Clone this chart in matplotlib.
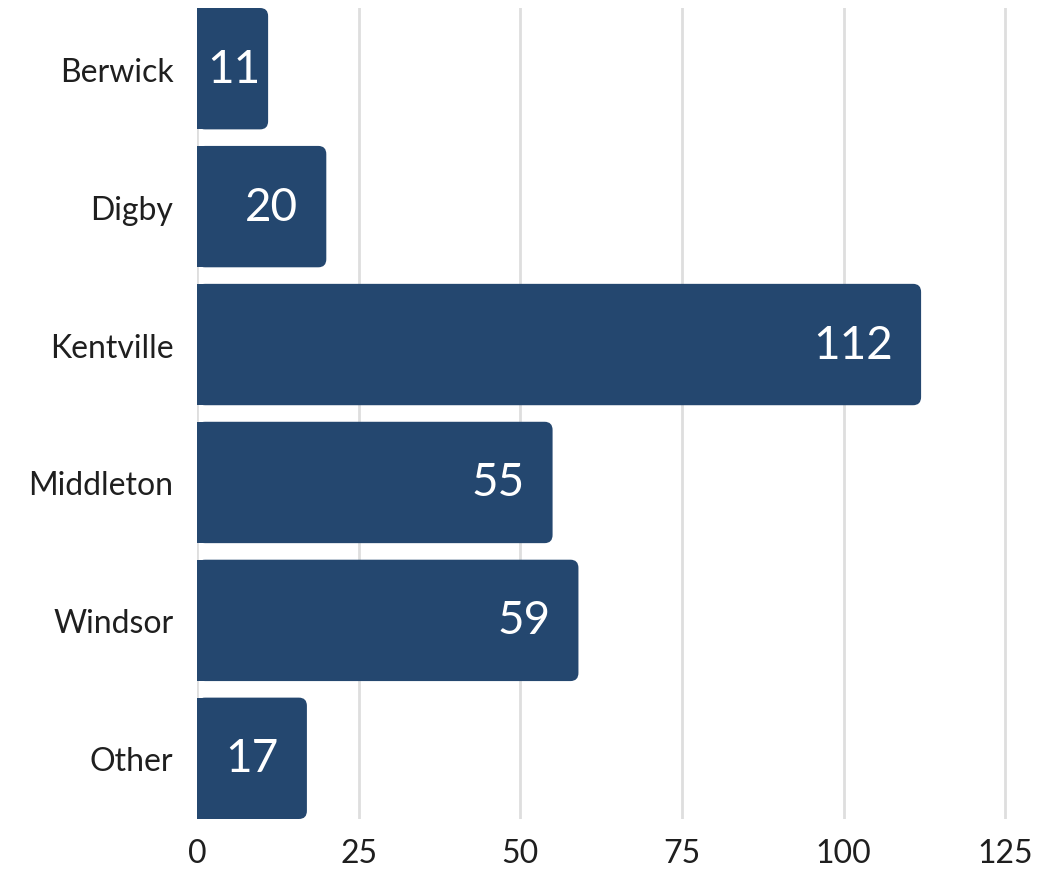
import matplotlib

matplotlib.use("Agg")

import matplotlib.pyplot as plt
from matplotlib.patches import FancyBboxPatch

# Counts by location
LOCATIONS = ["Berwick", "Digby", "Kentville", "Middleton", "Windsor", "Other"]
COUNTS = [11, 20, 112, 55, 59, 17]
X_TICKS = [0, 25, 50, 75, 100, 125]

BAR_COLOR = "#24476F"
TEXT_COLOR = "#1F1F1F"
GRID_COLOR = "#DEDEDE"
FONT = ["Lato", "DejaVu Sans"]

plt.rcParams["font.family"] = FONT

fig = plt.figure(figsize=(10.37, 8.70), dpi=100)
ax = fig.add_axes([197 / 1037, 50 / 870, (1031 - 197) / 1037, (820 - 9) / 870])

positions = list(range(len(LOCATIONS)))
bars = ax.barh(positions, COUNTS, height=0.88, color=BAR_COLOR, zorder=2)

ax.set_xlim(0, 129)
ax.set_ylim(len(LOCATIONS) - 0.56, -0.44)

# pixel scale, used to keep the corner radius round on screen
px_per_x = ax.bbox.width / 129
px_per_y = ax.bbox.height / len(LOCATIONS)
radius_px = 8
rx = radius_px / px_per_x
ry = radius_px / px_per_y

# swap the plain rectangles for bars rounded on the right end only
for bar in bars:
    x0, y0 = bar.get_x(), bar.get_y()
    w, h = bar.get_width(), bar.get_height()
    bar.set_visible(False)
    rounded = FancyBboxPatch(
        (x0, y0), w, h,
        boxstyle=f"round,pad=0,rounding_size={rx}",
        mutation_aspect=ry / rx,
        facecolor=BAR_COLOR, edgecolor="none", zorder=2,
    )
    ax.add_patch(rounded)
    ax.add_patch(plt.Rectangle((x0, y0), w / 2, h, facecolor=BAR_COLOR,
                               edgecolor="none", zorder=2))

ax.set_xticks(X_TICKS)
ax.set_xticklabels([str(t) for t in X_TICKS])
ax.set_yticks(positions)
ax.set_yticklabels(LOCATIONS)
ax.tick_params(axis="x", length=0, pad=14, labelsize=23, labelcolor=TEXT_COLOR)
ax.tick_params(axis="y", length=0, pad=17, labelsize=23, labelcolor=TEXT_COLOR)

ax.grid(axis="x", color=GRID_COLOR, linewidth=2, zorder=0)
ax.grid(axis="y", visible=False)
for spine in ax.spines.values():
    spine.set_visible(False)

# value labels, right-aligned inside each bar
fig.canvas.draw()
renderer = fig.canvas.get_renderer()
for pos, value in zip(positions, COUNTS):
    label = ax.text(value, pos, str(value), color="white", fontsize=33,
                    ha="right", va="center", zorder=3)
    text_w = label.get_window_extent(renderer).width
    bar_w = value * px_per_x
    pad = min(28, bar_w - text_w - 10)
    label.set_x(value - pad / px_per_x)

fig.savefig("out.png", dpi=100, facecolor="white")
